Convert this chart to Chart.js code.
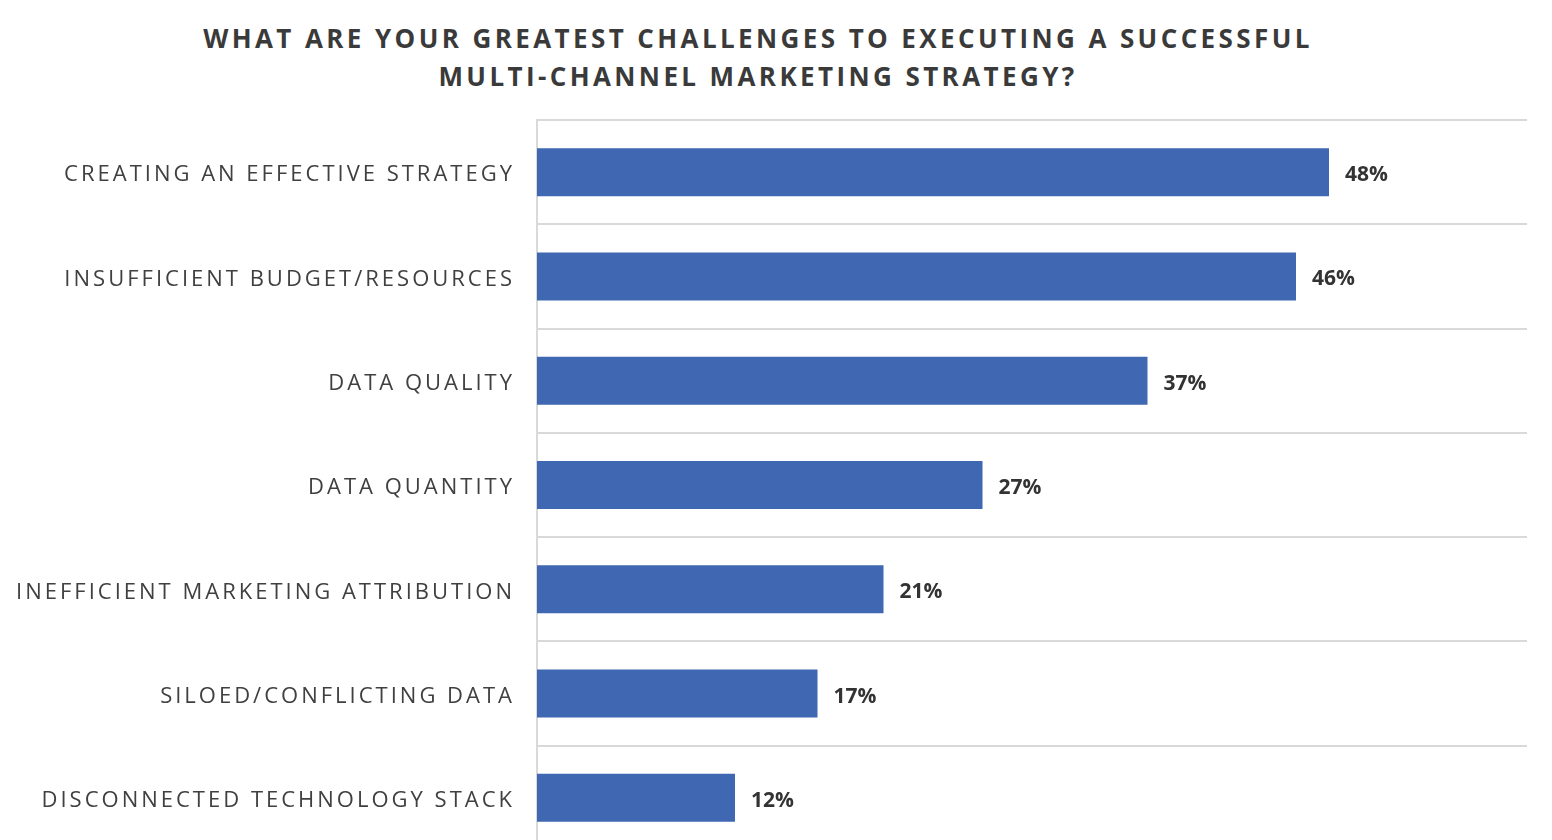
<!DOCTYPE html>
<html>
<head>
<meta charset="utf-8">
<script src="https://cdn.jsdelivr.net/npm/chart.js@4/dist/chart.umd.min.js"></script>
<style>
  html, body { margin: 0; padding: 0; background: #fff; overflow: hidden; }
  #wrap { position: relative; width: 1552px; height: 840px; }
  #title {
    position: absolute; left: 0; top: 19px; width: 1516px;
    text-align: center; font-family: "Open Sans", sans-serif; font-weight: 700;
    font-size: 26px; line-height: 38px; letter-spacing: 3.4px; color: #3a3a3a;
  }
  #chart { position: absolute; left: 0; top: 0; }
</style>
</head>
<body>
<div id="wrap">
  <div id="title">WHAT ARE YOUR GREATEST CHALLENGES TO EXECUTING A SUCCESSFUL<br>MULTI-CHANNEL MARKETING STRATEGY?</div>
  <canvas id="chart" width="1552" height="850"></canvas>
</div>
<script>
// Survey answers, share of respondents (%)
const categories = [
  'CREATING AN EFFECTIVE STRATEGY',
  'INSUFFICIENT BUDGET/RESOURCES',
  'DATA QUALITY',
  'DATA QUANTITY',
  'INEFFICIENT MARKETING ATTRIBUTION',
  'SILOED/CONFLICTING DATA',
  'DISCONNECTED TECHNOLOGY STACK'
];
const values = [48, 46, 37, 27, 21, 17, 12];
const valueLabels = ['48%', '46%', '37%', '27%', '21%', '17%', '12%'];

const gridColor = '#d9d9d9';
const barColor = '#3f67b2';

// spaced-out caps for the category labels
const letterSpacingPlugin = {
  id: 'letterSpacing',
  beforeUpdate(chart) { chart.ctx.letterSpacing = '3px'; },
  beforeDraw(chart) { chart.ctx.letterSpacing = '3px'; }
};

// value labels at the end of each bar
const valueLabelPlugin = {
  id: 'valueLabels',
  afterDatasetsDraw(chart) {
    const ctx = chart.ctx;
    const meta = chart.getDatasetMeta(0);
    ctx.save();
    ctx.letterSpacing = '0px';
    ctx.font = '700 21px "Open Sans", sans-serif';
    ctx.fillStyle = '#333333';
    ctx.textAlign = 'left';
    ctx.textBaseline = 'middle';
    meta.data.forEach((bar, i) => {
      ctx.fillText(valueLabels[i], bar.x + 16, bar.y + 3);
    });
    ctx.restore();
  }
};

new Chart(document.getElementById('chart'), {
  type: 'bar',
  data: {
    labels: categories,
    datasets: [{
      data: values,
      backgroundColor: barColor,
      barPercentage: 0.46,
      categoryPercentage: 1
    }]
  },
  plugins: [letterSpacingPlugin, valueLabelPlugin],
  options: {
    indexAxis: 'y',
    responsive: false,
    animation: false,
    layout: { padding: { top: 120, right: 25, bottom: 0, left: 0 } },
    plugins: {
      legend: { display: false },
      tooltip: { enabled: false }
    },
    scales: {
      x: {
        display: false,
        min: 0,
        max: 60
      },
      y: {
        afterFit(scale) {
          scale.width = 537;
          // no extra room for half a label at the ends, the last band runs off the page
          scale.paddingTop = 0;
          scale.paddingBottom = 0;
        },
        grid: {
          offset: true,
          color: gridColor,
          lineWidth: 2,
          drawTicks: false
        },
        border: { color: gridColor, width: 2 },
        ticks: {
          color: '#404040',
          padding: 22,
          labelOffset: 3,
          font: { family: '"Open Sans", sans-serif', size: 22 }
        }
      }
    }
  }
});
</script>
</body>
</html>
